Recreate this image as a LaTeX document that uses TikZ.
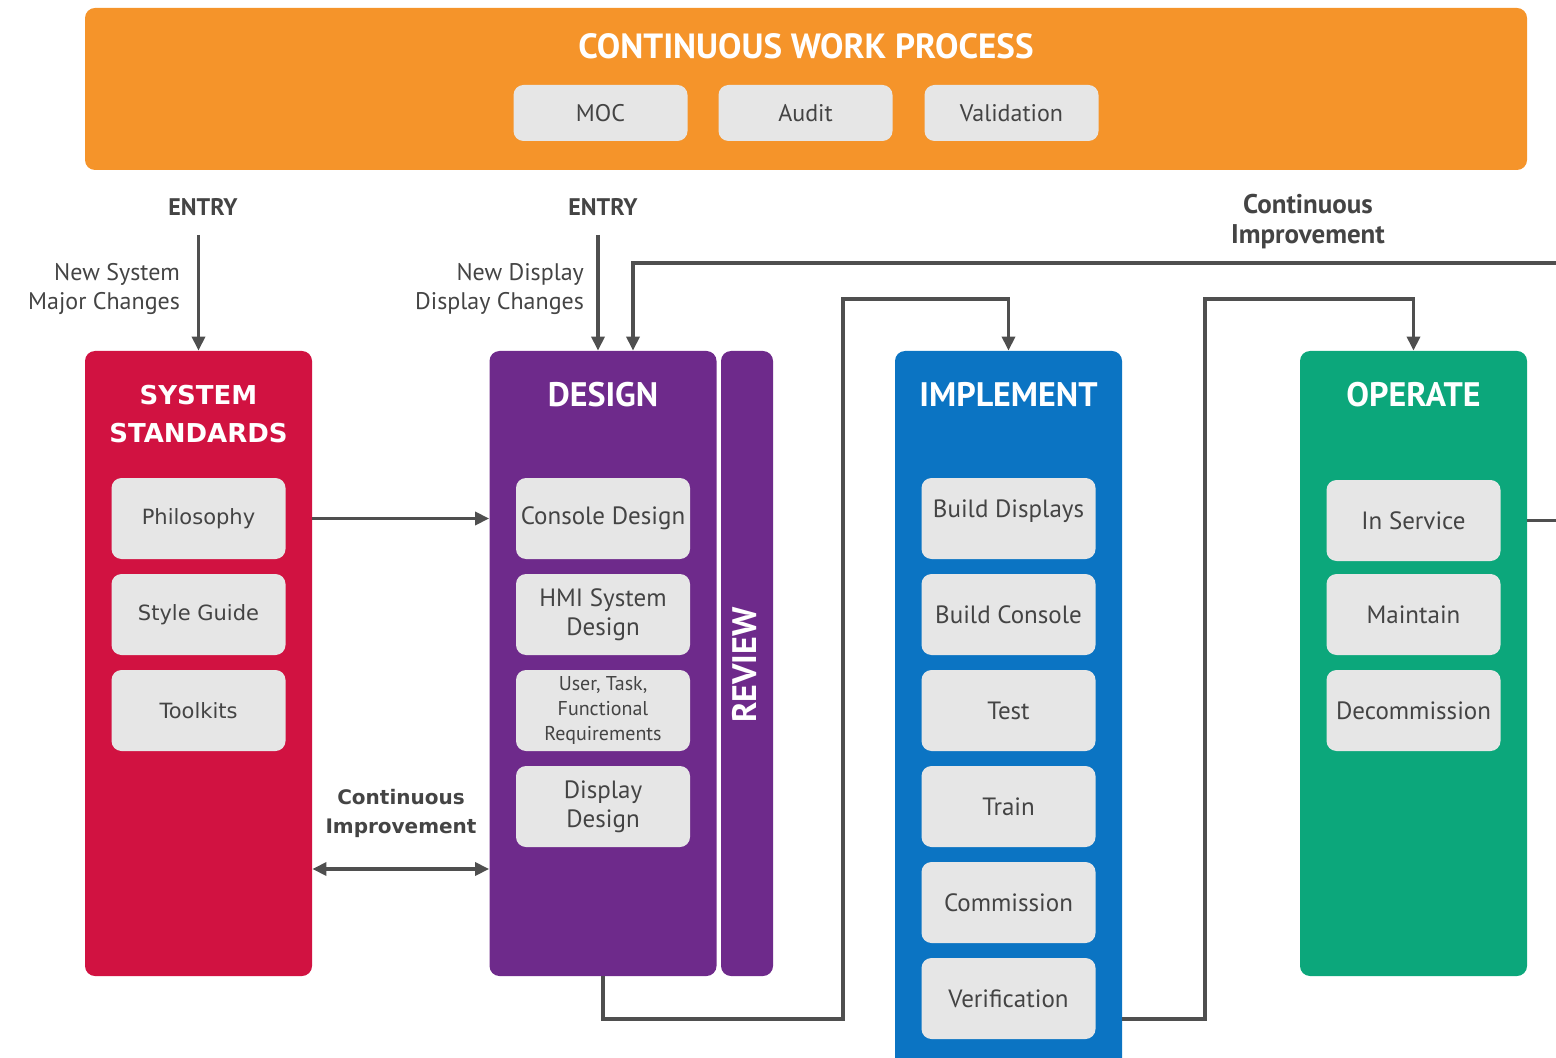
\documentclass[tikz,border=0pt]{standalone}
\usepackage{fontspec}
\setmainfont{PT Sans}
\newfontfamily\verdfont{DejaVu Sans}
\usetikzlibrary{arrows.meta}

\definecolor{cwporange}{HTML}{F5942A}
\definecolor{sysred}{HTML}{D11241}
\definecolor{despurple}{HTML}{6E2A8B}
\definecolor{impblue}{HTML}{0B74C3}
\definecolor{opgreen}{HTML}{0CA77B}
\definecolor{itemgray}{HTML}{E6E6E6}
\definecolor{itemtext}{HTML}{444444}
\definecolor{linegray}{HTML}{4F4F4F}

\begin{document}
\begin{tikzpicture}[x=0.5pt,y=-0.5pt,
  col/.style={rounded corners=5pt, minimum width=113.5pt, minimum height=312.5pt, inner sep=0pt},
  item/.style={fill=itemgray, rounded corners=5pt, minimum width=87pt, minimum height=40.5pt,
    inner sep=1pt, align=center, text=itemtext, font=\fontsize{12.5}{14.5}\selectfont},
  topitem/.style={item, minimum height=28pt, font=\fontsize{12}{14}\selectfont},
  coltitle/.style={text=white, align=center, font=\bfseries\fontsize{17}{19}\selectfont},
  lbl/.style={text=itemtext, align=right, font=\fontsize{12}{14.5}\selectfont},
  blbl/.style={text=itemtext, align=center, font=\bfseries\fontsize{12}{14.5}\selectfont},
  conn/.style={draw=linegray, line width=1.7pt},
  arr/.style={conn, -{Triangle[length=7pt,width=6.5pt]}},
  darr/.style={conn, {Triangle[length=7pt,width=6.5pt]}-{Triangle[length=7pt,width=6.5pt]}}]

\useasboundingbox (0,0) rectangle (1556,1058);

\node[fill=cwporange, rounded corners=5pt, minimum width=721pt, minimum height=81pt] (cwp) at (806,89) {};
\node[text=white, font=\bfseries\fontsize{17.5}{19}\selectfont] (cwptitle) at (806,46) {CONTINUOUS WORK PROCESS};
\node[topitem] (moc) at (600.5,113) {MOC};
\node[topitem] (audit) at (805.5,113) {Audit};
\node[topitem] (valid) at (1011.5,113) {Validation};

\node[col, fill=sysred] (sys) at (198.5,663.5) {};
\node[col, fill=despurple] (design) at (603,663.5) {};
\node[col, fill=despurple, minimum width=26pt] (review) at (747,663.5) {};
\node[col, fill=impblue, minimum height=362pt] (impl) at (1008.5,713) {};
\node[col, fill=opgreen] (oper) at (1413.5,663.5) {};

\node[coltitle, font=\verdfont\bfseries\fontsize{13}{19}\selectfont] (systitle) at (198.5,414) {SYSTEM\\STANDARDS};
\node[coltitle] (destitle) at (603,395) {DESIGN};
\node[coltitle, rotate=90] (revtitle) at (745,665) {REVIEW};
\node[coltitle] (imptitle) at (1008.5,395) {IMPLEMENT};
\node[coltitle] (optitle) at (1413.5,395) {OPERATE};

\node[item, font=\verdfont\fontsize{10.5}{13}\selectfont] (philo) at (198.5,518.5) {Philosophy};
\node[item, font=\verdfont\fontsize{10.5}{13}\selectfont] (styleguide) at (198.5,614.5) {Style Guide};
\node[item, font=\verdfont\fontsize{10.5}{13}\selectfont] (toolkits) at (198.5,710.5) {Toolkits};

\node[item] (console) at (603,518.5) {Console Design};
\node[item] (hmi) at (603,614.5) {HMI System\\Design};
\node[item, font=\fontsize{10}{12.5}\selectfont] (usertask) at (603,710.5) {User, Task,\\Functional\\Requirements};
\node[item] (dispdesign) at (603,806.5) {Display\\Design};

\node[item] (builddisp) at (1008.5,518.5) {\raisebox{10pt}{Build Displays}};
\node[item] (buildcons) at (1008.5,614.5) {Build Console};
\node[item] (test) at (1008.5,710.5) {Test};
\node[item] (train) at (1008.5,806.5) {Train};
\node[item] (commission) at (1008.5,902.5) {Commission};
\node[item] (verif) at (1008.5,998.5) {Verification};

\node[item] (inservice) at (1413.5,520.5) {In Service};
\node[item] (maintain) at (1413.5,614.5) {Maintain};
\node[item] (decom) at (1413.5,710.5) {Decommission};

\node[blbl] (entry1) at (203,207) {ENTRY};
\node[blbl] (entry2) at (603,207) {ENTRY};
\node[lbl, anchor=east] (newsys) at (187,289) {New System\\Major Changes};
\node[lbl, anchor=east] (newdisp) at (591,289) {New Display\\Display Changes};
\node[blbl, font=\bfseries\fontsize{13.5}{15}\selectfont] (citop) at (1308,222) {Continuous\\Improvement};
\node[blbl, font=\verdfont\bfseries\fontsize{10}{14.5}\selectfont] (cibot) at (401,813) {Continuous\\Improvement};

\coordinate (e1) at (198.5,235);
\coordinate (e2) at (598,235);
\coordinate (ci) at (633,263);
\coordinate (ci2) at (401,869);
\coordinate (d1) at (843,1019);
\coordinate (d2) at (843,299);
\coordinate (m1) at (1205,1019);
\coordinate (m2) at (1205,299);

\draw[arr] (e1) -- (sys.north);
\draw[arr] (e2) -- (e2 |- design.north);
\draw[arr] (inservice -| oper.east) -- ++(60,0) |- (ci) -- (ci |- design.north);
\draw[arr] (philo -| sys.east) -- (philo -| design.west);
\draw[darr] (ci2 -| sys.east) -- (ci2 -| design.west);
\draw[arr] (design.south) |- (d1) -- (d2) -- (d2 -| impl.north) -- (impl.north);
\draw[arr] (m1 -| impl.east) -- (m1) -- (m2) -- (m2 -| oper.north) -- (oper.north);

\end{tikzpicture}
\end{document}
